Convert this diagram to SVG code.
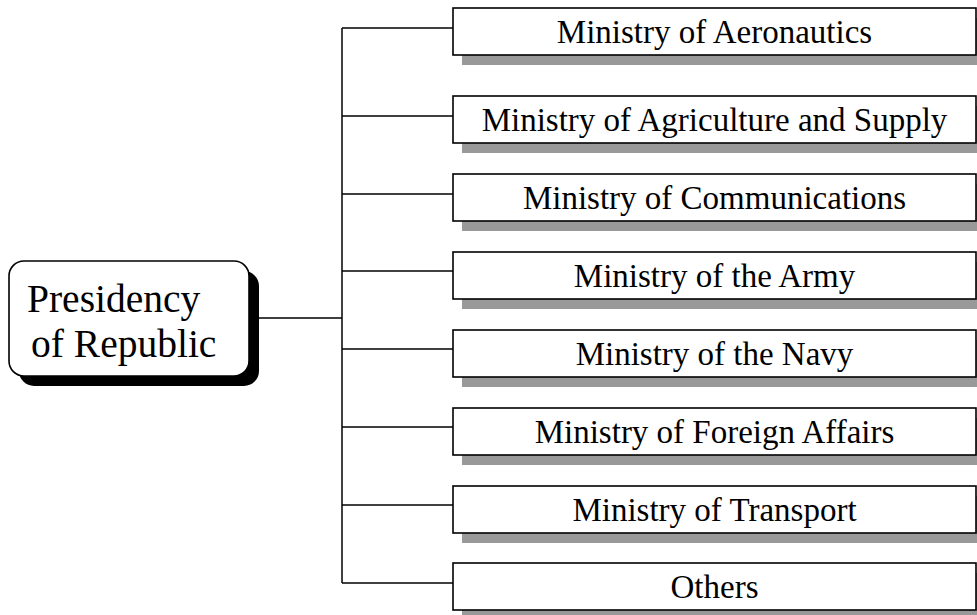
<svg xmlns="http://www.w3.org/2000/svg" width="977" height="615" viewBox="0 0 977 615">
<style>
.box{fill:#fff;stroke:#000;stroke-width:1.6}
.sh{fill:#999}
.lbl{font-family:"Liberation Serif","Times New Roman",serif;font-size:33px;fill:#000;text-anchor:middle}
.big{font-family:"Liberation Serif","Times New Roman",serif;font-size:39.5px;fill:#000}
.ln{stroke:#000;stroke-width:1.5;fill:none}
</style>
<rect width="977" height="615" fill="#fff"/>
<g id="connectors">
<line class="ln" x1="342" y1="28" x2="342" y2="583"/>
<line class="ln" x1="258" y1="318" x2="342" y2="318"/>
<line class="ln" x1="342" y1="28" x2="453" y2="28"/>
<line class="ln" x1="342" y1="116" x2="453" y2="116"/>
<line class="ln" x1="342" y1="194" x2="453" y2="194"/>
<line class="ln" x1="342" y1="271" x2="453" y2="271"/>
<line class="ln" x1="342" y1="349" x2="453" y2="349"/>
<line class="ln" x1="342" y1="427" x2="453" y2="427"/>
<line class="ln" x1="342" y1="505" x2="453" y2="505"/>
<line class="ln" x1="342" y1="583" x2="453" y2="583"/>
</g>
<g id="presidency">
<rect x="19" y="271" width="240" height="115" rx="15" fill="#000"/>
<rect x="9" y="261" width="240" height="115" rx="15" class="box"/>
<text class="big" x="27" y="312">Presidency</text>
<text class="big" x="31" y="357">of Republic</text>
</g>
<g id="aeronautics">
<rect class="sh" x="462" y="18" width="523" height="47"/>
<rect class="box" x="453" y="8" width="523" height="47"/>
<text class="lbl" x="714.5" y="43">Ministry of Aeronautics</text>
</g>
<g id="agriculture">
<rect class="sh" x="462" y="106" width="523" height="47"/>
<rect class="box" x="453" y="96" width="523" height="47"/>
<text class="lbl" x="714.5" y="131">Ministry of Agriculture and Supply</text>
</g>
<g id="communications">
<rect class="sh" x="462" y="184" width="523" height="47"/>
<rect class="box" x="453" y="174" width="523" height="47"/>
<text class="lbl" x="714.5" y="209">Ministry of Communications</text>
</g>
<g id="army">
<rect class="sh" x="462" y="262" width="523" height="47"/>
<rect class="box" x="453" y="252" width="523" height="47"/>
<text class="lbl" x="714.5" y="287">Ministry of the Army</text>
</g>
<g id="navy">
<rect class="sh" x="462" y="340" width="523" height="47"/>
<rect class="box" x="453" y="330" width="523" height="47"/>
<text class="lbl" x="714.5" y="365">Ministry of the Navy</text>
</g>
<g id="foreign">
<rect class="sh" x="462" y="418" width="523" height="47"/>
<rect class="box" x="453" y="408" width="523" height="47"/>
<text class="lbl" x="714.5" y="443">Ministry of Foreign Affairs</text>
</g>
<g id="transport">
<rect class="sh" x="462" y="496" width="523" height="47"/>
<rect class="box" x="453" y="486" width="523" height="47"/>
<text class="lbl" x="714.5" y="521">Ministry of Transport</text>
</g>
<g id="others">
<rect class="sh" x="462" y="573" width="523" height="47"/>
<rect class="box" x="453" y="563" width="523" height="47"/>
<text class="lbl" x="714.5" y="598">Others</text>
</g>
</svg>
